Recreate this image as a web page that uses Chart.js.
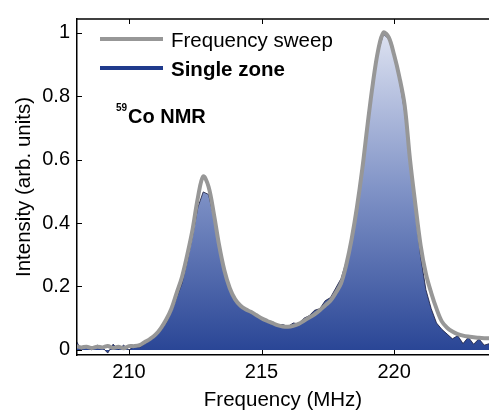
<!DOCTYPE html>
<html>
<head>
<meta charset="utf-8">
<script src="https://cdn.jsdelivr.net/npm/chart.js@4/dist/chart.umd.min.js"></script>
<style>
  html, body { margin: 0; padding: 0; background: #fff; }
  #wrap { width: 489px; height: 410px; position: relative; }
</style>
</head>
<body>
<div id="wrap"><canvas id="c" width="489" height="410"></canvas></div>
<script>
// ---- data ----
const freqMHz = [
  208.0,208.2,208.4,208.6,208.8,209.0,209.2,209.4,209.6,209.8,
  210.0,210.2,210.4,210.6,210.8,211.0,211.2,211.4,211.6,211.8,
  212.0,212.2,212.4,212.6,212.8,213.0,213.2,213.4,213.6,213.8,
  214.0,214.2,214.4,214.6,214.8,215.0,215.2,215.4,215.6,215.8,
  216.0,216.2,216.4,216.6,216.8,217.0,217.2,217.4,217.6,217.8,
  218.0,218.2,218.4,218.6,218.8,219.0,219.2,219.4,219.6,219.8,
  220.0,220.2,220.4,220.6,220.8,221.0,221.2,221.4,221.6,221.8,
  222.0,222.2,222.4,222.6,222.8,223.0,223.2,223.4,223.6
];
const sweepIntensity = [
  0.012,0.008,0.010,0.006,0.010,0.008,0.012,0.006,0.010,0.005,
  0.012,0.012,0.015,0.025,0.035,0.048,0.068,0.095,0.130,0.180,
  0.230,0.300,0.380,0.480,0.547,0.515,0.430,0.330,0.250,0.195,
  0.160,0.140,0.128,0.120,0.110,0.100,0.092,0.085,0.078,0.074,
  0.073,0.076,0.082,0.092,0.102,0.112,0.125,0.140,0.155,0.180,
  0.210,0.270,0.350,0.450,0.570,0.710,0.840,0.945,1.000,0.985,
  0.930,0.860,0.770,0.600,0.460,0.330,0.240,0.180,0.130,0.090,
  0.070,0.058,0.050,0.045,0.042,0.040,0.038,0.037,0.037
];
const singleZoneIntensity = [
  0.030,0.000,0.012,0.000,0.015,0.008,-0.010,0.018,0.002,0.015,
  0.000,0.012,0.008,0.020,0.030,0.042,0.060,0.085,0.120,0.165,
  0.210,0.280,0.360,0.450,0.498,0.490,0.420,0.325,0.245,0.190,
  0.158,0.138,0.126,0.120,0.108,0.102,0.090,0.088,0.078,0.080,
  0.074,0.085,0.082,0.100,0.108,0.125,0.130,0.155,0.165,0.195,
  0.225,0.280,0.350,0.450,0.570,0.710,0.840,0.940,0.995,0.980,
  0.925,0.850,0.750,0.590,0.440,0.295,0.190,0.130,0.085,0.065,
  0.050,0.035,0.045,0.020,0.040,0.018,0.035,0.015,0.020
];
const xTicks = [210, 215, 220];
const yTicks = [0, 0.2, 0.4, 0.6, 0.8, 1];
const seriesNames = ['Frequency sweep', 'Single zone'];

// ---- chart ----
const FONT = '"Liberation Sans", Arial, Helvetica, sans-serif';
const toXY = (ys) => ys.map((v, i) => ({ x: freqMHz[i], y: v }));

function blueGradient(ctx) {
  const chart = ctx.chart;
  const { chartArea, scales } = chart;
  if (!chartArea) return '#3a55a0';
  const y0 = scales.y.getPixelForValue(0);
  const y1 = scales.y.getPixelForValue(1);
  const g = chart.ctx.createLinearGradient(0, y0, 0, y1);
  g.addColorStop(0, '#2a4696');
  g.addColorStop(0.5, '#7f92c6');
  g.addColorStop(1, '#dde2f1');
  return g;
}

const decor = {
  id: 'decor',
  afterDraw(chart) {
    const { ctx, chartArea: a, scales: { x, y } } = chart;
    ctx.save();
    ctx.strokeStyle = '#000';
    ctx.lineWidth = 1.5;
    ctx.beginPath();
    ctx.moveTo(a.left, a.top);
    ctx.lineTo(a.right, a.top);
    ctx.stroke();
    ctx.lineWidth = 1;
    xTicks.forEach(v => {
      const px = Math.round(x.getPixelForValue(v)) + 0.5;
      ctx.beginPath();
      ctx.moveTo(px, a.bottom); ctx.lineTo(px, a.bottom - 5);
      ctx.moveTo(px, a.top); ctx.lineTo(px, a.top + 5);
      ctx.stroke();
    });
    yTicks.forEach(v => {
      const py = Math.round(y.getPixelForValue(v)) + 0.5;
      ctx.beginPath();
      ctx.moveTo(a.left, py); ctx.lineTo(a.left + 5, py);
      ctx.stroke();
    });
    // legend
    ctx.lineCap = 'butt';
    ctx.lineWidth = 4;
    ctx.strokeStyle = '#979797';
    ctx.beginPath(); ctx.moveTo(100, 39); ctx.lineTo(163, 39); ctx.stroke();
    ctx.strokeStyle = '#1f3a8c';
    ctx.beginPath(); ctx.moveTo(100, 68); ctx.lineTo(163, 68); ctx.stroke();
    ctx.fillStyle = '#000';
    ctx.textBaseline = 'alphabetic';
    ctx.textAlign = 'left';
    ctx.font = '20.5px ' + FONT;
    ctx.fillText(seriesNames[0], 171, 47);
    ctx.font = 'bold 20.5px ' + FONT;
    ctx.fillText(seriesNames[1], 171, 76);
    // annotation
    ctx.font = 'bold 10px ' + FONT;
    ctx.fillText('59', 116, 111);
    ctx.font = 'bold 20px ' + FONT;
    ctx.fillText('Co NMR', 128, 123);
    ctx.restore();
  }
};

new Chart(document.getElementById('c'), {
  type: 'line',
  data: {
    datasets: [
      {
        label: seriesNames[1],
        data: toXY(singleZoneIntensity),
        borderColor: '#15183a',
        borderWidth: 0.8,
        backgroundColor: blueGradient,
        fill: 'origin',
        pointRadius: 0,
        tension: 0,
        order: 2
      },
      {
        label: seriesNames[0],
        data: toXY(sweepIntensity),
        borderColor: '#979797',
        borderWidth: 4,
        fill: false,
        pointRadius: 0,
        tension: 0.35,
        order: 1
      }
    ]
  },
  options: {
    responsive: false,
    animation: false,
    devicePixelRatio: 1,
    layout: { padding: { top: 14, right: 0, left: 0, bottom: 0 } },
    plugins: { legend: { display: false }, tooltip: { enabled: false } },
    scales: {
      x: {
        type: 'linear',
        min: 208.04,
        max: 223.58,
        afterBuildTicks: (s) => { s.ticks = xTicks.map(v => ({ value: v })); },
        afterFit: (s) => { s.height = 55; s.paddingLeft = 0; s.paddingRight = 0; },
        grid: { display: false, drawTicks: false },
        border: { display: true, color: '#000', width: 1.5 },
        ticks: { color: '#000', font: { family: FONT, size: 20 }, padding: 5, maxRotation: 0,
                 callback: (v) => String(v) },
        title: { display: true, text: 'Frequency (MHz)', color: '#000',
                 font: { family: FONT, size: 20.5, lineHeight: 1 }, padding: { top: 0, bottom: -1 } }
      },
      y: {
        type: 'linear',
        min: -0.016,
        max: 1.043,
        afterBuildTicks: (s) => { s.ticks = yTicks.map(v => ({ value: v })); },
        afterFit: (s) => { s.width = 77; },
        grid: { display: false, drawTicks: false },
        border: { display: true, color: '#000', width: 1.5 },
        ticks: { color: '#000', font: { family: FONT, size: 20 }, padding: 7,
                 callback: (v) => String(Math.round(v * 10) / 10) },
        title: { display: true, text: 'Intensity (arb. units)', color: '#000',
                 font: { family: FONT, size: 20.5, lineHeight: 1 }, padding: { top: 14, bottom: 0 } }
      }
    }
  },
  plugins: [decor]
});
</script>
</body>
</html>
